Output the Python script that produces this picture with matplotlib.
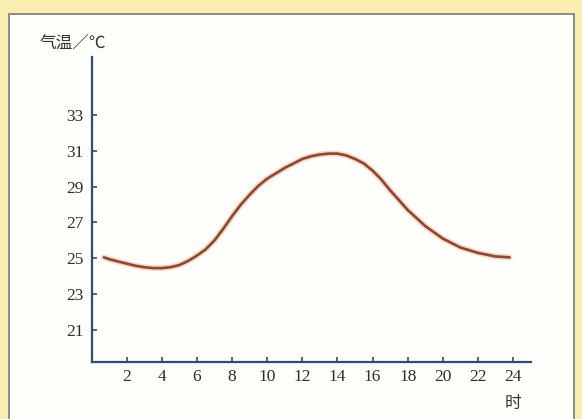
import matplotlib
matplotlib.use("Agg")
import matplotlib.pyplot as plt
from matplotlib.patches import Rectangle

plt.rcParams['font.family'] = ['Liberation Serif', 'Noto Sans CJK SC', 'DejaVu Sans']

# Air temperature over one day, read every half hour
hours = [0.7, 1, 1.5, 2, 2.5, 3, 3.5, 4, 4.5, 5, 5.5, 6, 6.5, 7, 7.5, 8, 8.5, 9, 9.5,
         10, 10.5, 11, 11.5, 12, 12.5, 13, 13.5, 14, 14.5, 15, 15.5, 16, 16.5, 17,
         17.5, 18, 18.5, 19, 19.5, 20, 20.5, 21, 21.5, 22, 22.5, 23, 23.8]
temps = [25.05, 24.95, 24.82, 24.7, 24.58, 24.5, 24.45, 24.45, 24.5, 24.62, 24.85,
         25.15, 25.5, 26.0, 26.65, 27.35, 28.0, 28.55, 29.05, 29.45, 29.75, 30.05,
         30.3, 30.55, 30.7, 30.8, 30.85, 30.85, 30.75, 30.55, 30.3, 29.9, 29.4,
         28.8, 28.25, 27.7, 27.25, 26.8, 26.45, 26.1, 25.85, 25.6, 25.45, 25.3,
         25.2, 25.1, 25.05]

x_ticks = [2, 4, 6, 8, 10, 12, 14, 16, 18, 20, 22, 24]
y_ticks = [21, 23, 25, 27, 29, 31, 33]
y_label = "气温／℃"
x_unit = "时"

W, H = 582, 419
fig = plt.figure(figsize=(W / 100, H / 100), dpi=100)
fig.patch.set_facecolor("#f8efb0")

# background layer: inner panel with a thin grey frame
bg = fig.add_axes([0, 0, 1, 1], zorder=0)
bg.set_xlim(0, W)
bg.set_ylim(H, 0)
bg.axis("off")
bg.add_patch(Rectangle((9, 14), 574 - 9, H + 20, facecolor="#fefefa",
                       edgecolor="#8c8c84", linewidth=1.4))

axis_color = "#2f4d6e"
ax = fig.add_axes([91.6 / W, 1 - 362 / H, 439 / W, 305 / H], zorder=2)
ax.set_facecolor("none")
ax.set_xlim(0, 25)
ax.set_ylim(19.2, 36.25)

for s in ("top", "right"):
    ax.spines[s].set_visible(False)
for s in ("left", "bottom"):
    ax.spines[s].set_color(axis_color)
    ax.spines[s].set_linewidth(1.6)

ax.set_xticks(x_ticks)
ax.set_yticks(y_ticks)
ax.tick_params(axis="both", direction="in", length=3.5, width=1.2,
               color=axis_color, labelsize=12.5, labelcolor="#2e2e2e")
ax.tick_params(axis="x", pad=5)
ax.tick_params(axis="y", pad=6)

# soft glow under the curve, then the curve itself
ax.plot(hours, temps, color="#f2b48a", linewidth=4.2, alpha=0.5,
        solid_capstyle="round", solid_joinstyle="round", zorder=2)
ax.plot(hours, temps, color="#8e4636", linewidth=1.9,
        solid_capstyle="round", solid_joinstyle="round", zorder=3)

fig.text(40 / W, 1 - 44 / H, y_label, fontsize=12, color="#333333",
         ha="left", va="center", zorder=3)
fig.text(513 / W, 1 - 404 / H, x_unit, fontsize=12, color="#333333",
         ha="center", va="center", zorder=3)

fig.savefig("out.png", dpi=100, facecolor=fig.get_facecolor())
